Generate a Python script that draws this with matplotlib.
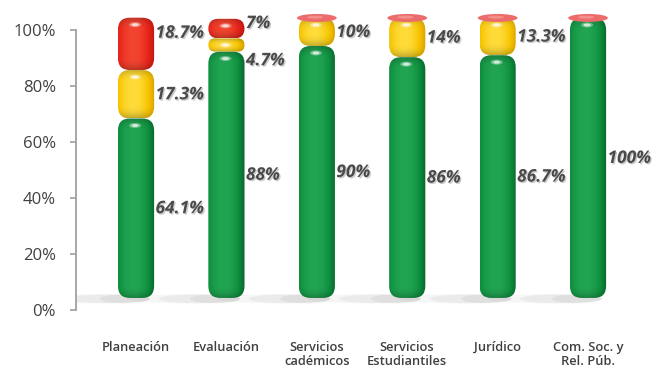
import matplotlib
matplotlib.use("Agg")
import matplotlib.pyplot as plt
import matplotlib.patheffects as pe
import numpy as np
from matplotlib.colors import to_rgb
from matplotlib.patches import Ellipse, FancyBboxPatch

categories = [
    "Planeación",
    "Evaluación",
    "Servicios\ncadémicos",
    "Servicios\nEstudiantiles",
    "Jurídico",
    "Com. Soc. y\nRel. Púb.",
]
green = [64.1, 88, 90, 86, 86.7, 100]
yellow = [17.3, 4.7, 10, 14, 13.3, 0]
red = [18.7, 7, 0, 0, 0, 0]
y_ticks = [0, 20, 40, 60, 80, 100]

# pixel scale of the axes (used to keep the capsule ends round)
PX_X = 90.4
PX_Y = 2.8
BASE = 4.3          # cylinders sit slightly above the 0% line (floor depth)
BAR_W = 0.40

SHADES = {
    "green": ("#07602a", "#0e8f3e", "#22a552"),
    "yellow": ("#d89a00", "#f6c400", "#ffdc3a"),
    "red": ("#b8150f", "#e6231b", "#f2452f"),
}

# label nudges in points for a few crowded segments
NUDGE = {(0, 2): 8, (1, 1): -11, (1, 2): 4}

plt.rcParams["font.family"] = ["Open Sans", "DejaVu Sans"]

fig = plt.figure(figsize=(6.58, 3.69), dpi=100)
ax = fig.add_axes([76 / 658, 59 / 369, 582 / 658, 308 / 369])
ax.set_xlim(-0.664, 5.774)
ax.set_ylim(0, 110)


def cylinder_image(shade, h_px, r_px, nx=64):
    dark, mid, light = (np.array(to_rgb(c)) for c in shade)
    t = np.linspace(0, 1, nx)
    k = np.clip(1 - ((t - 0.42) / 0.6) ** 2, 0, 1)[:, None]
    row = np.where(
        k < 0.55,
        dark + (mid - dark) * (k / 0.55),
        mid + (light - mid) * ((k - 0.55) / 0.45),
    )
    ny = max(int(h_px), 4)
    yy = np.linspace(0, h_px, ny)
    d = np.minimum(yy, h_px - yy)
    f = 1 - 0.22 * np.clip(1 - d / max(r_px, 1), 0, 1) ** 2
    img = row[None, :, :] * f[:, None, None]
    return np.clip(img, 0, 1)


def capsule(xc, y0, h, shade):
    h_px = h * PX_Y
    r_px = min(12, h_px / 2 - 0.01, BAR_W * PX_X / 2 - 0.01)
    r = r_px / PX_X
    patch = FancyBboxPatch(
        (xc - BAR_W / 2, y0), BAR_W, h,
        boxstyle=f"round,pad=0,rounding_size={r}",
        mutation_aspect=PX_X / PX_Y, linewidth=0, facecolor="none", zorder=2,
    )
    ax.add_patch(patch)
    im = ax.imshow(
        cylinder_image(shade, h_px, r_px),
        extent=(xc - BAR_W / 2, xc + BAR_W / 2, y0, y0 + h),
        aspect="auto", interpolation="bilinear", zorder=2,
    )
    im.set_clip_path(patch)
    hl_y = y0 + h - min(7, h_px / 2) / PX_Y
    ax.add_patch(Ellipse((xc - 0.01, hl_y), 12 / PX_X, 5 / PX_Y,
                         color="white", alpha=0.35, lw=0, zorder=3))
    ax.add_patch(Ellipse((xc - 0.01, hl_y), 7 / PX_X, 3 / PX_Y,
                         color="white", alpha=0.7, lw=0, zorder=3))


for i, cat in enumerate(categories):
    xc = i
    # soft floor shadow trailing to the left
    for w, a in [(1.25, 0.07), (0.9, 0.09), (0.55, 0.11)]:
        ax.add_patch(Ellipse((xc - w / 2 + 0.15, BASE - 0.3), w, 3.2,
                             color="#808080", alpha=a, lw=0, zorder=1))

    y0 = BASE
    segs = [(green[i], "green"), (yellow[i], "yellow"), (red[i], "red")]
    for j, (v, name) in enumerate(segs):
        if v <= 0:
            continue
        capsule(xc, y0, v, SHADES[name])
        ax.annotate(
            f"{v:g}%", xy=(xc + BAR_W / 2, y0 + v / 2),
            xytext=(1, NUDGE.get((i, j), 0)), textcoords="offset points",
            ha="left", va="center", fontsize=12.5, fontstyle="italic",
            fontweight="bold", color="#4a4a4a", zorder=5,
            path_effects=[pe.SimplePatchShadow(offset=(1, -1), shadow_rgbFace="#999999", alpha=0.5),
                          pe.Normal()],
        )
        y0 += v
    if red[i] == 0:
        ax.add_patch(Ellipse((xc, y0), BAR_W + 0.04, 8 / PX_Y,
                             color="#ec6b6b", lw=0, zorder=4))
        ax.add_patch(Ellipse((xc - 0.02, y0 + 0.3), BAR_W * 0.45, 3 / PX_Y,
                             color="#f7a09a", alpha=0.7, lw=0, zorder=4))

    ax.text(xc, -11.0, cat, ha="center", va="top", fontsize=9.3,
            fontweight="semibold", color="#404040", linespacing=1.15,
            clip_on=False)

for s in ["top", "right", "bottom"]:
    ax.spines[s].set_visible(False)
ax.spines["left"].set_bounds(0, 100)
ax.spines["left"].set_color("#a0a0a0")
ax.spines["left"].set_linewidth(1.3)
ax.set_yticks(y_ticks)
ax.set_yticklabels([f"{t}%" for t in y_ticks])
ax.tick_params(axis="y", length=4.5, width=1.2, color="#a0a0a0",
               labelsize=12, labelcolor="#404040", pad=10)
ax.set_xticks([])

fig.savefig("out.png", dpi=100)
